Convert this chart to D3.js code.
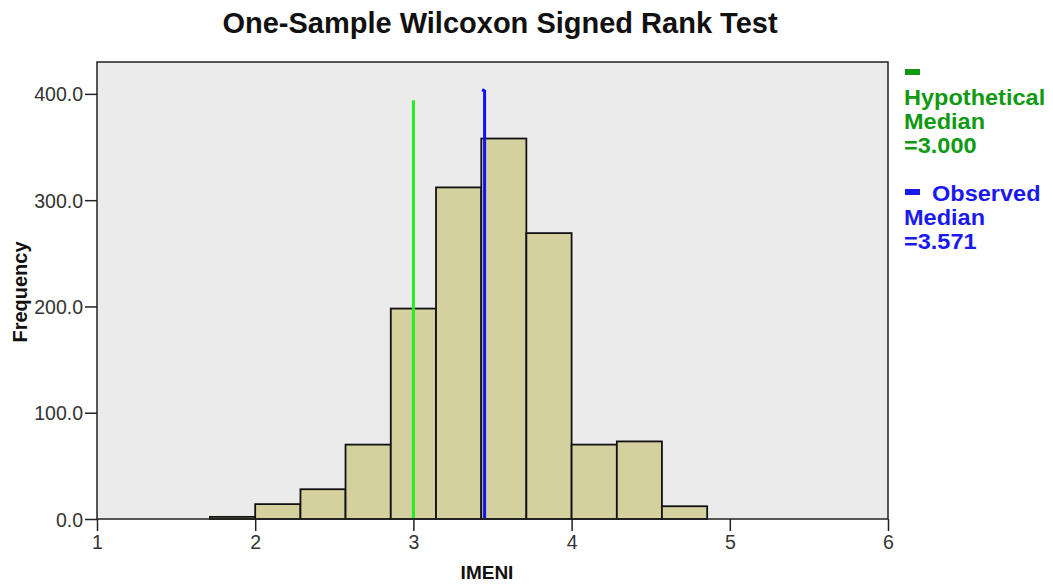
<!DOCTYPE html>
<html>
<head>
<meta charset="utf-8">
<script src="https://cdn.jsdelivr.net/npm/d3@7"></script>
<style>
  html, body { margin: 0; padding: 0; background: #ffffff; }
  svg { display: block; }
  text { font-family: "Liberation Sans", Arial, sans-serif; }
</style>
</head>
<body>
<svg id="chart" width="1053" height="584"></svg>
<script>
// ---- data ----
const binLow  = [1.714, 2.000, 2.286, 2.571, 2.857, 3.143, 3.429, 3.714, 4.000, 4.286, 4.571];
const binHigh = [2.000, 2.286, 2.571, 2.857, 3.143, 3.429, 3.714, 4.000, 4.286, 4.571, 4.857];
const counts  = [2, 14, 28, 70, 198, 312, 358, 269, 70, 73, 12];
const xTicks = [1, 2, 3, 4, 5, 6];
const yTicks = [0, 100, 200, 300, 400];
const hypMedian = 3.000;          // hypothetical median line position
const hypLineTop = 394;
const obsLineX = 3.45;            // observed median line as drawn
const obsLineTop = 404;
const titleText = "One-Sample Wilcoxon Signed Rank Test";
const xLabel = "IMENI";
const yLabel = "Frequency";
const legendHyp = ["Hypothetical", "Median", "=3.000"];
const legendObs = ["Observed", "Median", "=3.571"];

// ---- layout ----
const svg = d3.select("#chart");
const L = 97, R = 888, T = 62, B = 519;
const x = d3.scaleLinear().domain([1, 6]).range([L, R]);
const y = d3.scaleLinear().domain([0, 430]).range([B, T]);

// plot background
svg.append("rect").attr("x", L).attr("y", T).attr("width", R - L).attr("height", B - T)
  .attr("fill", "#ebebeb");

// bars
const bins = binLow.map((lo, i) => ({lo, hi: binHigh[i], n: counts[i]}));
svg.append("g").selectAll("rect").data(bins).join("rect")
  .attr("x", d => x(d.lo))
  .attr("y", d => y(d.n))
  .attr("width", d => x(d.hi) - x(d.lo))
  .attr("height", d => y(0) - y(d.n))
  .attr("fill", "#d4d19f")
  .attr("stroke", "#111")
  .attr("stroke-width", 1.8);

// median lines
svg.append("line")
  .attr("x1", x(hypMedian)).attr("x2", x(hypMedian))
  .attr("y1", y(hypLineTop)).attr("y2", y(0) - 1)
  .attr("stroke", "#22ee22").attr("stroke-width", 3);
svg.append("path")
  .attr("d", d3.line()([[x(obsLineX) - 2.5, y(obsLineTop)], [x(obsLineX), y(obsLineTop) + 1.5], [x(obsLineX), y(0) - 1]]))
  .attr("fill", "none")
  .attr("stroke", "#1010ff").attr("stroke-width", 3);

// frame
svg.append("rect").attr("x", L).attr("y", T).attr("width", R - L).attr("height", B - T)
  .attr("fill", "none").attr("stroke", "#222").attr("stroke-width", 1.5);

// axes
const yAxis = d3.axisLeft(y).tickValues(yTicks).tickFormat(d3.format(".1f")).tickSize(12).tickPadding(2);
const gy = svg.append("g").attr("transform", `translate(${L},0)`).call(yAxis);
const xAxis = d3.axisBottom(x).tickValues(xTicks).tickFormat(d3.format("d")).tickSize(12).tickPadding(4);
const gx = svg.append("g").attr("transform", `translate(0,${B})`).call(xAxis);
[gx, gy].forEach(g => {
  g.select(".domain").remove();
  g.selectAll(".tick line").attr("stroke", "#222").attr("stroke-width", 1.5);
  g.selectAll(".tick text").attr("fill", "#333").style("font-size", "19.5px")
    .style("font-family", "'Liberation Sans', Arial, sans-serif");
});
gy.selectAll(".tick text").attr("dy", "0.36em");

// titles
svg.append("text").attr("x", 500).attr("y", 33).attr("text-anchor", "middle")
  .style("font-size", "29px").style("font-weight", "bold").attr("fill", "#111").text(titleText);
svg.append("text").attr("x", 487).attr("y", 579).attr("text-anchor", "middle")
  .style("font-size", "19px").style("font-weight", "bold").attr("fill", "#111").text(xLabel);
svg.append("text").attr("transform", "translate(27,292) rotate(-90)").attr("text-anchor", "middle")
  .style("font-size", "20px").style("font-weight", "bold").attr("fill", "#111").text(yLabel);

// legend
const lg = svg.append("g");
const legendLine = (t, xx, yy, color) => {
  const el = lg.append("text").attr("x", xx).attr("y", yy)
    .style("font-size", "21.4px").style("font-weight", "bold").attr("fill", color).text(t);
  const w = el.node().getComputedTextLength();
  el.attr("textLength", w * 1.1).attr("lengthAdjust", "spacingAndGlyphs");
};
lg.append("rect").attr("x", 905).attr("y", 69).attr("width", 15).attr("height", 6).attr("fill", "#119911");
legendHyp.forEach((t, i) => legendLine(t, 904, 105 + i * 24, "#119911"));
lg.append("rect").attr("x", 905).attr("y", 189).attr("width", 15).attr("height", 6).attr("fill", "#1a1aee");
legendObs.forEach((t, i) => legendLine(t, i === 0 ? 932 : 904, 201 + i * 24, "#1a1aee"));
</script>
</body>
</html>
